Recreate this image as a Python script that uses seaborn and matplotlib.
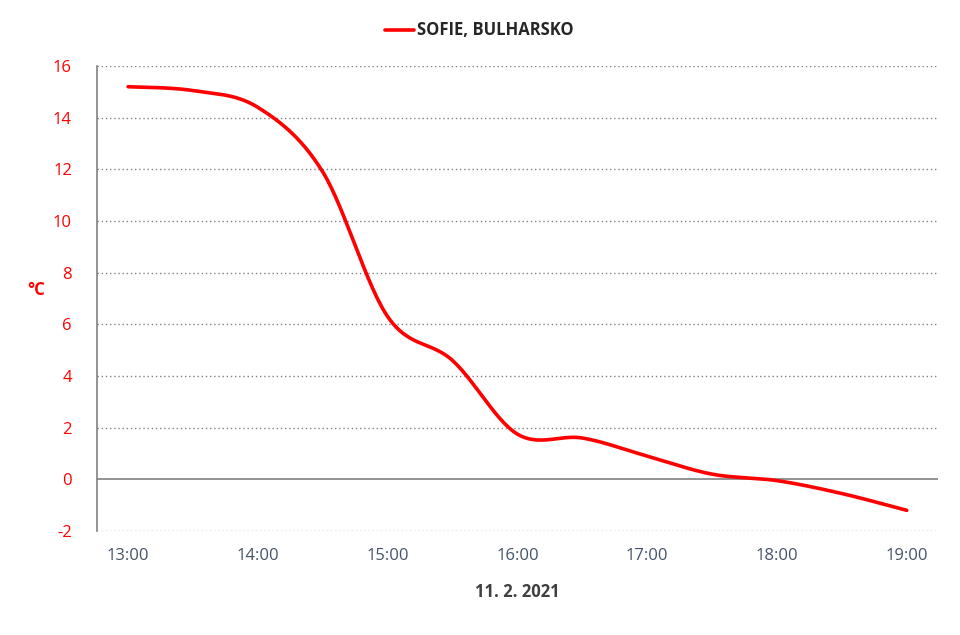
import numpy as np
import pandas as pd
import seaborn as sns
import matplotlib.pyplot as plt

# half-hour readings, 11. 2. 2021
times = ["13:00", "13:30", "14:00", "14:30", "15:00", "15:30", "16:00",
         "16:30", "17:00", "17:30", "18:00", "18:30", "19:00"]
temps = [15.2, 15.05, 14.4, 11.9, 6.3, 4.6, 1.75, 1.6, 0.9, 0.2, -0.05, -0.55, -1.2]
tick_labels = ["13:00", "14:00", "15:00", "16:00", "17:00", "18:00", "19:00"]
series_name = "SOFIE, BULHARSKO"


def to_hours(t):
    h, m = t.split(":")
    return int(h) + int(m) / 60


def smooth(x, y, n=30):
    # Excel-like smoothed line (cardinal bezier through the points)
    x = np.asarray(x, float)
    y = np.asarray(y, float)
    px, py = [], []
    for i in range(len(x) - 1):
        x0, y0 = (x[i - 1], y[i - 1]) if i > 0 else (x[i], y[i])
        x3, y3 = (x[i + 2], y[i + 2]) if i + 2 < len(x) else (x[i + 1], y[i + 1])
        c1x = x[i] + (x[i + 1] - x0) / 6
        c1y = y[i] + (y[i + 1] - y0) / 6
        c2x = x[i + 1] - (x3 - x[i]) / 6
        c2y = y[i + 1] - (y3 - y[i]) / 6
        t = np.linspace(0, 1, n, endpoint=(i == len(x) - 2))
        b0, b1, b2, b3 = (1 - t) ** 3, 3 * t * (1 - t) ** 2, 3 * t ** 2 * (1 - t), t ** 3
        px.extend(b0 * x[i] + b1 * c1x + b2 * c2x + b3 * x[i + 1])
        py.extend(b0 * y[i] + b1 * c1y + b2 * c2y + b3 * y[i + 1])
    return np.array(px), np.array(py)


hours = [to_hours(t) for t in times]
sx, sy = smooth(hours, temps)
df = pd.DataFrame({"hour": sx, "temp": sy, "series": series_name})

sns.set_style("white")
plt.rcParams['font.family'] = ['Open Sans', 'DejaVu Sans']
plt.rcParams['axes.unicode_minus'] = False

fig = plt.figure(figsize=(9.6, 6.35), dpi=100)
ax = fig.add_axes([0.101, 0.1638, 0.876, 0.7322])

sns.lineplot(data=df, x="hour", y="temp", hue="series", palette=["#ff0000"],
             linewidth=2.6, sort=False, estimator=None, ax=ax)

ax.set_ylim(-2, 16)
ax.set_yticks(range(-2, 17, 2))
ax.set_xlim(12.76, 19.24)
ax.set_xticks([to_hours(t) for t in tick_labels])
ax.set_xticklabels(tick_labels)

for v in range(-2, 17, 2):
    if v == 0:
        ax.axhline(v, color="#808080", linewidth=1.2, zorder=1)
    else:
        ax.axhline(v, color="#808080", linewidth=1, linestyle=(0, (1, 2)), zorder=1)

for s in ["top", "right", "bottom"]:
    ax.spines[s].set_visible(False)
ax.spines["left"].set_color("#808080")
ax.spines["left"].set_linewidth(1.2)

ax.tick_params(axis="y", colors="#ff0000", labelsize=12, length=0, pad=18)
ax.tick_params(axis="x", colors="#595959", labelsize=12, length=0, pad=12)
for lbl in ax.get_xticklabels():
    lbl.set_color("#44546a")

ax.set_xlabel("11. 2. 2021", fontsize=12, fontweight="bold", color="#404040", labelpad=14)
ax.set_ylabel("°C", fontsize=12, fontweight="bold", color="#ff0000", rotation=0, labelpad=28)
ax.yaxis.set_label_coords(-0.072, 0.5)

leg = ax.legend(loc="lower center", bbox_to_anchor=(0.455, 1.025), frameon=False,
                handlelength=1.7, handletextpad=0.2, fontsize=12)
for t in leg.get_texts():
    t.set_fontweight("bold")

fig.savefig("out.png", dpi=100)
